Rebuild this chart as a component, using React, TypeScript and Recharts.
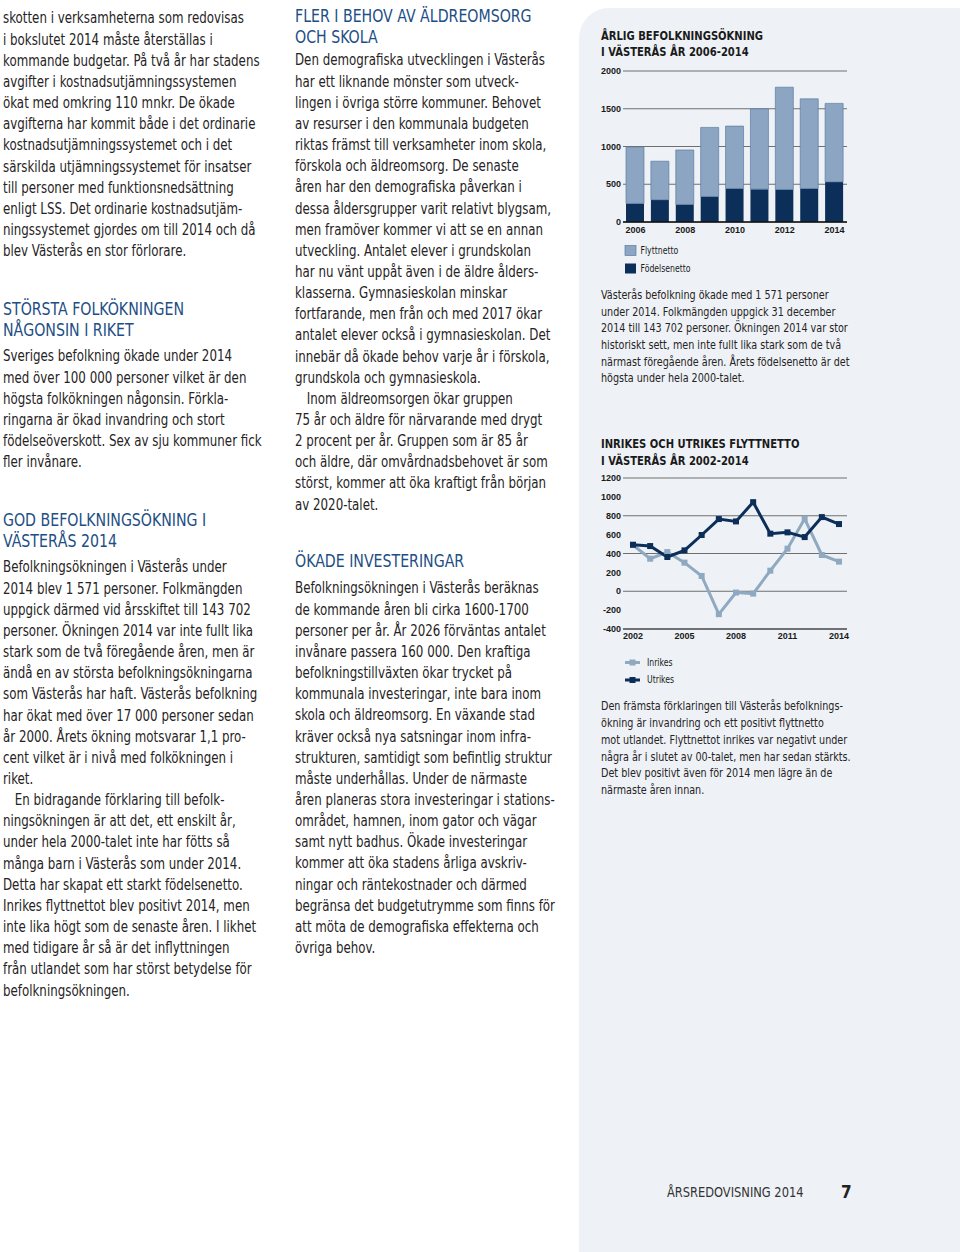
import React from 'react';
import { BarChart, Bar, XAxis, YAxis, CartesianGrid, LineChart, Line } from 'recharts';

// ---------- chart data ----------
const barYears = ['2006', '2007', '2008', '2009', '2010', '2011', '2012', '2013', '2014'];
const fodelsenetto = [246, 295, 233, 338, 444, 435, 431, 444, 532];
const flyttnetto = [744, 510, 721, 915, 826, 1064, 1354, 1187, 1039];
const barYTicks = [0, 500, 1000, 1500, 2000];

const lineYears = ['2002', '2003', '2004', '2005', '2006', '2007', '2008', '2009', '2010', '2011', '2012', '2013', '2014'];
const inrikes = [490, 345, 415, 303, 162, -243, -14, -25, 218, 451, 768, 384, 314];
const utrikes = [493, 479, 363, 433, 596, 765, 740, 944, 610, 624, 574, 786, 712];
const lineYTicks = [-400, -200, 0, 200, 400, 600, 800, 1000, 1200];

// ---------- page text ----------
const col1a = [
  'skotten i verksamheterna som redovisas',
  'i bokslutet 2014 måste återställas i',
  'kommande budgetar. På två år har stadens',
  'avgifter i kostnadsutjämningssystemen',
  'ökat med omkring 110 mnkr. De ökade',
  'avgifterna har kommit både i det ordinarie',
  'kostnadsutjämningssystemet och i det',
  'särskilda utjämningssystemet för insatser',
  'till personer med funktionsnedsättning',
  'enligt LSS. Det ordinarie kostnadsutjäm-',
  'ningssystemet gjordes om till 2014 och då',
  'blev Västerås en stor förlorare.',
];
const head1 = ['STÖRSTA FOLKÖKNINGEN', 'NÅGONSIN I RIKET'];
const col1b = [
  'Sveriges befolkning ökade under 2014',
  'med över 100 000 personer vilket är den',
  'högsta folkökningen någonsin. Förkla-',
  'ringarna är ökad invandring och stort',
  'födelseöverskott. Sex av sju kommuner fick',
  'fler invånare.',
];
const head2 = ['GOD BEFOLKNINGSÖKNING I', 'VÄSTERÅS 2014'];
const col1c = [
  'Befolkningsökningen i Västerås under',
  '2014 blev 1 571 personer. Folkmängden',
  'uppgick därmed vid årsskiftet till 143 702',
  'personer. Ökningen 2014 var inte fullt lika',
  'stark som de två föregående åren, men är',
  'ändå en av största befolkningsökningarna',
  'som Västerås har haft. Västerås befolkning',
  'har ökat med över 17 000 personer sedan',
  'år 2000. Årets ökning motsvarar 1,1 pro-',
  'cent vilket är i nivå med folkökningen i',
  'riket.',
  '\u2003En bidragande förklaring till befolk-',
  'ningsökningen är att det, ett enskilt år,',
  'under hela 2000-talet inte har fötts så',
  'många barn i Västerås som under 2014.',
  'Detta har skapat ett starkt födelsenetto.',
  'Inrikes flyttnettot blev positivt 2014, men',
  'inte lika högt som de senaste åren. I likhet',
  'med tidigare år så är det inflyttningen',
  'från utlandet som har störst betydelse för',
  'befolkningsökningen.',
];
const head3 = ['FLER I BEHOV AV ÄLDREOMSORG', 'OCH SKOLA'];
const col2a = [
  'Den demografiska utvecklingen i Västerås',
  'har ett liknande mönster som utveck-',
  'lingen i övriga större kommuner. Behovet',
  'av resurser i den kommunala budgeten',
  'riktas främst till verksamheter inom skola,',
  'förskola och äldreomsorg. De senaste',
  'åren har den demografiska påverkan i',
  'dessa åldersgrupper varit relativt blygsam,',
  'men framöver kommer vi att se en annan',
  'utveckling. Antalet elever i grundskolan',
  'har nu vänt uppåt även i de äldre ålders-',
  'klasserna. Gymnasieskolan minskar',
  'fortfarande, men från och med 2017 ökar',
  'antalet elever också i gymnasieskolan. Det',
  'innebär då ökade behov varje år i förskola,',
  'grundskola och gymnasieskola.',
  '\u2003Inom äldreomsorgen ökar gruppen',
  '75 år och äldre för närvarande med drygt',
  '2 procent per år. Gruppen som är 85 år',
  'och äldre, där omvårdnadsbehovet är som',
  'störst, kommer att öka kraftigt från början',
  'av 2020-talet.',
];
const head4 = ['ÖKADE INVESTERINGAR'];
const col2b = [
  'Befolkningsökningen i Västerås beräknas',
  'de kommande åren bli cirka 1600-1700',
  'personer per år. År 2026 förväntas antalet',
  'invånare passera 160 000. Den kraftiga',
  'befolkningstillväxten ökar trycket på',
  'kommunala investeringar, inte bara inom',
  'skola och äldreomsorg. En växande stad',
  'kräver också nya satsningar inom infra-',
  'strukturen, samtidigt som befintlig struktur',
  'måste underhållas. Under de närmaste',
  'åren planeras stora investeringar i stations-',
  'området, hamnen, inom gator och vägar',
  'samt nytt badhus. Ökade investeringar',
  'kommer att öka stadens årliga avskriv-',
  'ningar och räntekostnader och därmed',
  'begränsa det budgetutrymme som finns för',
  'att möta de demografiska effekterna och',
  'övriga behov.',
];
const barTitle = ['ÅRLIG BEFOLKNINGSÖKNING', 'I VÄSTERÅS ÅR 2006-2014'];
const lineTitle = ['INRIKES OCH UTRIKES FLYTTNETTO', 'I VÄSTERÅS ÅR 2002-2014'];
const barLegend = ['Flyttnetto', 'Födelsenetto'];
const lineLegend = ['Inrikes', 'Utrikes'];
const note1 = [
  'Västerås befolkning ökade med 1 571 personer',
  'under 2014. Folkmängden uppgick 31 december',
  '2014 till 143 702 personer. Ökningen 2014 var stor',
  'historiskt sett, men inte fullt lika stark som de två',
  'närmast föregående åren. Årets födelsenetto är det',
  'högsta under hela 2000-talet.',
];
const note2 = [
  'Den främsta förklaringen till Västerås befolknings-',
  'ökning är invandring och ett positivt flyttnetto',
  'mot utlandet. Flyttnettot inrikes var negativt under',
  'några år i slutet av 00-talet, men har sedan stärkts.',
  'Det blev positivt även för 2014 men lägre än de',
  'närmaste åren innan.',
];
const footer = 'ÅRSREDOVISNING 2014';
const pageNo = '7';

// ---------- styles ----------
const NARROW = "'DejaVu Sans Condensed', 'Liberation Sans Narrow', sans-serif";
const SANS = "'Liberation Sans', Arial, sans-serif";
const BODY = '#262324';
const BLUE = '#1d4e84';
const LIGHT = '#8ba5c2';
const DARK = '#0c2f5a';
const LINE_LIGHT = '#8fa9c1';
const GRID = '#6f6f6f';
const PANEL = '#eef2f6';

const barData = barYears.map((y, i) => ({ year: y, fodelse: fodelsenetto[i], flytt: flyttnetto[i] }));
const lineData = lineYears.map((y, i) => ({ year: y, inrikes: inrikes[i], utrikes: utrikes[i] }));

const LINE_H = 21.15;

function Block({ lines, x, y, size, color, step, weight, sx }: { lines: string[]; x: number; y: number; size: number; color: string; step: number; weight?: number | string; sx: number }) {
  return (
    <g transform={`translate(${x} 0) scale(${sx} 1)`}>
      {lines.map((t, i) => (
        <text key={i} x={0} y={y + i * step} fontSize={size} fill={color} fontFamily={NARROW} fontWeight={weight ?? 400} style={{ whiteSpace: 'pre' }}>
          {t}
        </text>
      ))}
    </g>
  );
}

const tickStyle = { fontFamily: SANS, fontSize: 9, fontWeight: 700, fill: '#1a1a1a' };

function sq(color: string) {
  return (p: any) => <rect key={`d-${p.index}`} x={p.cx - 3} y={p.cy - 3} width={6} height={6} fill={color} />;
}

const S_BODY = 0.85;
const S_HEAD = 0.9;
const S_NOTE = 0.835;
const S_TITLE = 0.87;
const S_LEG = 0.82;

export default function App() {
  return (
    <div style={{ position: 'absolute', left: 0, top: 0, width: 960, height: 1252, background: '#ffffff', overflow: 'hidden' }}>
      <div style={{ position: 'absolute', left: 579, top: 8, width: 381, height: 1244, background: PANEL, borderTopLeftRadius: 30 }} />

      <div style={{ position: 'absolute', left: 580, top: 50 }}>
        <BarChart width={280} height={192} data={barData} margin={{ top: 21, right: 13, bottom: 0, left: 0 }} barSize={18}>
          <CartesianGrid vertical={false} stroke={GRID} strokeWidth={1} />
          <XAxis dataKey="year" interval={1} tickSize={0} tickMargin={5} height={20} axisLine={{ stroke: '#111', strokeWidth: 1.5 }} tick={tickStyle} />
          <YAxis width={43} domain={[0, 2000]} ticks={barYTicks} tickSize={0} tickMargin={2} axisLine={false} tick={tickStyle} />
          <Bar dataKey="fodelse" stackId="a" fill={DARK} isAnimationActive={false} />
          <Bar dataKey="flytt" stackId="a" fill={LIGHT} stroke="#5b7ca2" strokeWidth={0.7} isAnimationActive={false} />
        </BarChart>
      </div>

      <div style={{ position: 'absolute', left: 580, top: 460 }}>
        <LineChart width={280} height={189} data={lineData} margin={{ top: 18, right: 13, bottom: 0, left: 0 }}>
          <CartesianGrid vertical={false} stroke={GRID} strokeWidth={1} />
          <XAxis dataKey="year" interval={2} padding={{ left: 10, right: 8 }} tickSize={0} tickMargin={4} height={20} axisLine={{ stroke: '#333', strokeWidth: 1.2 }} tick={tickStyle} />
          <YAxis width={43} domain={[-400, 1200]} ticks={lineYTicks} tickSize={0} tickMargin={2} axisLine={false} tick={tickStyle} />
          <Line dataKey="inrikes" stroke={LINE_LIGHT} strokeWidth={3} dot={sq(LINE_LIGHT)} isAnimationActive={false} />
          <Line dataKey="utrikes" stroke={DARK} strokeWidth={3} dot={sq(DARK)} isAnimationActive={false} />
        </LineChart>
      </div>

      <svg width={960} height={1252} style={{ position: 'absolute', left: 0, top: 0, pointerEvents: 'none' }}>
        <Block lines={col1a} x={3} y={23.5} size={15.5} color={BODY} step={LINE_H} sx={S_BODY} />
        <Block lines={head1} x={3} y={315.5} size={17.5} color={BLUE} step={20.8} sx={S_HEAD} />
        <Block lines={col1b} x={3} y={361.5} size={15.5} color={BODY} step={LINE_H} sx={S_BODY} />
        <Block lines={head2} x={3} y={526} size={17.5} color={BLUE} step={20.8} sx={S_HEAD} />
        <Block lines={col1c} x={3} y={572.5} size={15.5} color={BODY} step={LINE_H} sx={S_BODY} />

        <Block lines={head3} x={295} y={22.5} size={17.5} color={BLUE} step={20.8} sx={S_HEAD} />
        <Block lines={col2a} x={295} y={65.5} size={15.5} color={BODY} step={LINE_H} sx={S_BODY} />
        <Block lines={head4} x={295} y={567.5} size={17.5} color={BLUE} step={20.8} sx={S_HEAD} />
        <Block lines={col2b} x={295} y={593.5} size={15.5} color={BODY} step={LINE_H} sx={S_BODY} />

        <Block lines={barTitle} x={601} y={40} size={12.8} color="#1a1a1a" step={16.2} weight={700} sx={S_TITLE} />
        <rect x={625} y={245.5} width={11} height={10} fill={LIGHT} stroke="#5b7ca2" strokeWidth={0.7} />
        <rect x={625} y={263.5} width={11} height={10} fill={DARK} />
        <Block lines={[barLegend[0]]} x={640.5} y={254} size={10.5} color="#1a1a1a" step={0} sx={S_LEG} />
        <Block lines={[barLegend[1]]} x={640.5} y={272} size={10.5} color="#1a1a1a" step={0} sx={S_LEG} />
        <Block lines={note1} x={601} y={299} size={12.8} color={BODY} step={16.7} sx={S_NOTE} />

        <Block lines={lineTitle} x={601} y={448.5} size={12.8} color="#1a1a1a" step={16.2} weight={700} sx={S_TITLE} />
        <line x1={625} x2={640} y1={662.5} y2={662.5} stroke={LINE_LIGHT} strokeWidth={3} />
        <rect x={629.5} y={659.5} width={6} height={6} fill={LINE_LIGHT} />
        <line x1={625} x2={640} y1={680} y2={680} stroke={DARK} strokeWidth={3} />
        <rect x={629.5} y={677} width={6} height={6} fill={DARK} />
        <Block lines={[lineLegend[0]]} x={647} y={666} size={10.5} color="#1a1a1a" step={0} sx={S_LEG} />
        <Block lines={[lineLegend[1]]} x={647} y={683.5} size={10.5} color="#1a1a1a" step={0} sx={S_LEG} />
        <Block lines={note2} x={601} y={710.5} size={12.8} color={BODY} step={16.7} sx={S_NOTE} />

        <Block lines={[footer]} x={667} y={1197} size={14} color="#333" step={0} sx={0.91} />
        <text x={841} y={1198} fontSize={17} fontFamily={NARROW} fontWeight={700} fill="#222">{pageNo}</text>
      </svg>
    </div>
  );
}
